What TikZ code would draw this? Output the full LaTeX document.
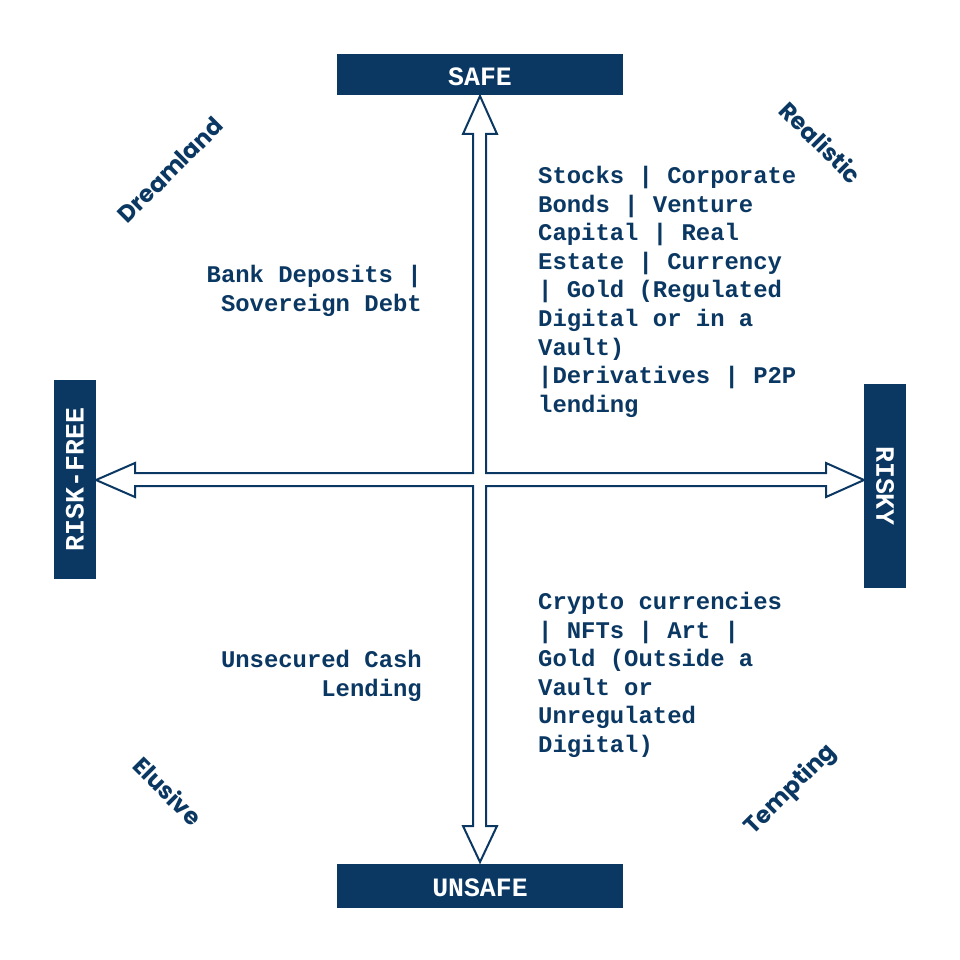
\documentclass[tikz,border=0pt]{standalone}
\usepackage{fontspec}
\setmonofont{Liberation Mono}
\newfontfamily\diagfont{Poppins}[BoldFont=* Bold]
\definecolor{navy}{RGB}{10,56,99}
\begin{document}
\begin{tikzpicture}[x=1pt,y=-1pt,
  axisbox/.style={fill=navy,text=white,inner sep=0pt,font=\ttfamily\bfseries\fontsize{26.5}{26.5}\selectfont},
  bodytext/.style={text=navy,inner sep=0pt,font=\ttfamily\bfseries\fontsize{23.9}{28.6}\selectfont},
  corner/.style={text=navy,inner sep=0pt,font=\diagfont\bfseries\fontsize{23.5}{23.5}\selectfont}]
\useasboundingbox[fill=white] (0,0) rectangle (960,960);
% axes as one block-arrow outline
\draw[navy,line width=2pt,line join=miter]
  (480,96) -- (497,134) -- (486,134) -- (486,473) -- (826,473) -- (826,463)
  -- (864,480) -- (826,497) -- (826,486) -- (486,486) -- (486,826) -- (497,826)
  -- (480,862) -- (463,826) -- (473,826) -- (473,486) -- (135,486) -- (135,497)
  -- (96,480) -- (135,463) -- (135,473) -- (473,473) -- (473,134) -- (463,134) -- cycle;
% boxes
\node[axisbox,minimum width=286pt,minimum height=41pt] (safe) at (480,74.5) {};
\node[text=white,inner sep=0pt,font=\ttfamily\bfseries\fontsize{26.5}{26.5}\selectfont] (safelbl) at (480,77) {SAFE};
\node[axisbox,minimum width=286pt,minimum height=44pt] (unsafe) at (480,886) {};
\node[text=white,inner sep=0pt,font=\ttfamily\bfseries\fontsize{26.5}{26.5}\selectfont] (unsafelbl) at (480,888) {UNSAFE};
\node[axisbox,minimum width=199pt,minimum height=42pt,rotate=90] (riskfree) at (75,479.5) {RISK-FREE};
\node[axisbox,minimum width=204pt,minimum height=42pt,rotate=-90] (risky) at (885,486) {RISKY};
% quadrant texts
\node[bodytext,anchor=north west,align=left] (tr) at (538,166) {Stocks | Corporate\\Bonds | Venture\\Capital | Real\\Estate | Currency\\| Gold (Regulated\\Digital or in a\\Vault)\\|Derivatives | P2P\\lending};
\node[bodytext,anchor=north east,align=right] (tl) at (422,265) {Bank Deposits |\\Sovereign Debt};
\node[bodytext,anchor=north east,align=right] (bl) at (422,650) {Unsecured Cash\\Lending};
\node[bodytext,anchor=north west,align=left] (br) at (538,592) {Crypto currencies\\| NFTs | Art |\\Gold (Outside a\\Vault or\\Unregulated\\Digital)};
% corner labels
\node[corner,rotate=45] (dream) at (170,170) {Dreamland};
\node[corner,rotate=-45] (real) at (821,142) {Realistic};
\node[corner,rotate=-45] (elus) at (168,791) {Elusive};
\node[corner,rotate=45] (tempt) at (791,790) {Tempting};
\end{tikzpicture}
\end{document}
